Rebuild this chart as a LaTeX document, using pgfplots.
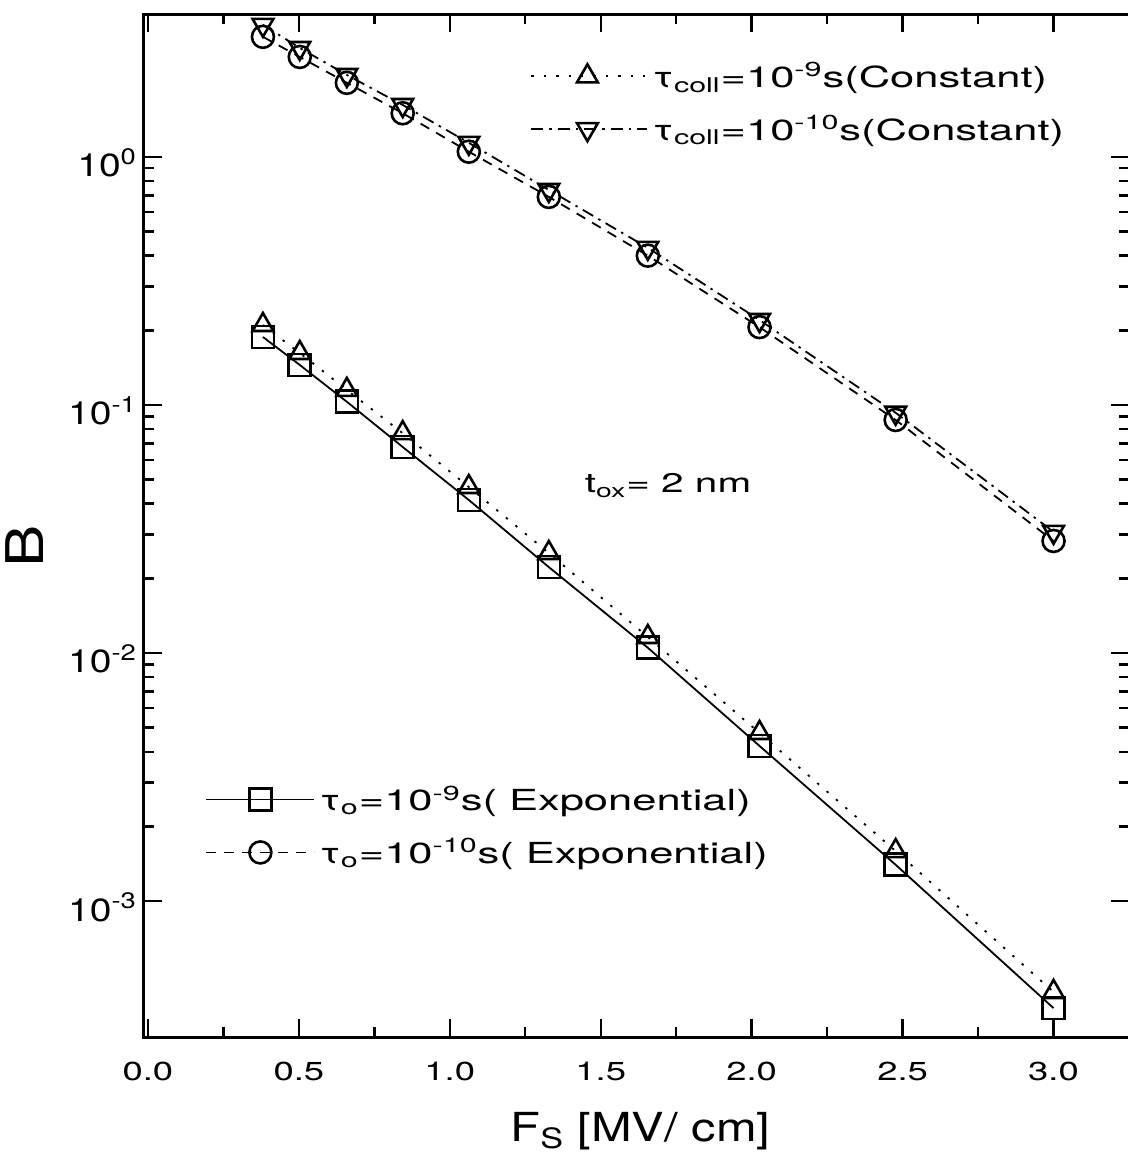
\documentclass[border=0pt]{standalone}
\usepackage{fontspec}
\setmainfont{TeX Gyre Heros}[FakeStretch=1.22]
\newfontfamily\legfont{TeX Gyre Heros}[FakeStretch=1.5]
\newfontfamily\tickfont{TeX Gyre Heros}[FakeStretch=1.4]
\usepackage{pgfplots}
\pgfplotsset{compat=1.18}
\tikzset{myfont/.style={font=\legfont\fontsize{14.5}{17}\selectfont}}
\begin{document}
\begin{tikzpicture}
% hidden axis: squares and circles, bottom-left legend
\begin{axis}[scale only axis, width=492.5pt, height=511.5pt,
  xmin=-0.013, xmax=3.25, ymode=log, ymin=2.83e-4, ymax=3.77,
  hide axis,
  legend style={draw=none, fill=none, at={(0.062,0.250)}, anchor=north west,
    inner sep=0pt, myfont, row sep=8.5pt},
  legend cell align=left,
  legend image code/.code={\draw[mark repeat=2,mark phase=2] plot coordinates {(0pt,0pt) (27pt,0pt) (54pt,0pt)};}]
\addplot[black, line width=0.9pt, solid, mark=square, mark size=5.5pt, mark options={solid, line width=1.3pt, fill=white}] coordinates {
 (0.381,0.188) (0.503,0.145) (0.659,0.103) (0.844,0.0677) (1.063,0.0414)
 (1.328,0.0222) (1.656,0.0105) (2.026,0.00422) (2.477,0.0014) (3.0,3.7e-4)};
\addlegendentry{τ\textsubscript{o}=10\textsuperscript{-9}s( Exponential)}
\addplot[black, line width=0.9pt, dash pattern=on 5pt off 4pt, mark=o, mark size=5.5pt, mark options={solid, line width=1.3pt, fill=white}] coordinates {
 (0.381,3.05) (0.503,2.53) (0.659,1.99) (0.844,1.50) (1.063,1.05)
 (1.328,0.69) (1.656,0.40) (2.026,0.206) (2.477,0.087) (3.0,0.0283)};
\addlegendentry{τ\textsubscript{o}=10\textsuperscript{-10}s( Exponential)}
\end{axis}
% main axis: triangles, top-right legend
\begin{axis}[scale only axis, width=492.5pt, height=511.5pt,
  xmin=-0.013, xmax=3.25, ymode=log, ymin=2.83e-4, ymax=3.77,
  axis line style={line width=1.5pt},
  xtick={0,0.5,1,1.5,2,2.5,3}, xticklabels={0.0,0.5,1.0,1.5,2.0,2.5,3.0},
  minor xtick={0.25,0.75,1.25,1.75,2.25,2.75},
  ytick={1e-3,1e-2,1e-1,1},
  yticklabels={10\textsuperscript{-3},10\textsuperscript{-2},10\textsuperscript{-1},10\textsuperscript{0}},
  tick style={line width=1.2pt, black},
  major tick length=9pt, minor tick length=5pt,
  xticklabel style={font=\tickfont\fontsize{13}{15}\selectfont, anchor=base, yshift=-21.5pt},
  yticklabel style={font=\fontsize{16}{19}\selectfont, yshift=-3pt},
  xlabel={F\textsubscript{S} [MV/ cm]}, ylabel={B},
  xlabel style={font=\fontsize{20}{24}\selectfont, at={(axis description cs:0.504,-0.1026)}, anchor=base},
  ylabel style={font=\fontsize{26}{30}\selectfont, at={(axis description cs:-0.121,0.48)}, anchor=center},
  legend style={draw=none, fill=none, at={(0.392,0.957)}, anchor=north west,
    inner sep=0pt, myfont, row sep=8.5pt},
  legend cell align=left,
  legend image code/.code={\draw[mark repeat=2,mark phase=2] plot coordinates {(0pt,0pt) (28pt,0pt) (58pt,0pt)};}]
\coordinate (sw) at (rel axis cs:0,0);
\coordinate (ne) at (rel axis cs:1,1);
\addplot[black, line width=0.9pt, dash pattern=on 1.2pt off 5pt, mark=triangle, mark size=6pt, mark options={solid, line width=1.3pt, fill=white}] coordinates {
 (0.381,0.210) (0.503,0.162) (0.659,0.115) (0.844,0.077) (1.063,0.0467)
 (1.328,0.0253) (1.656,0.0116) (2.026,0.00476) (2.477,0.00159) (3.0,4.3e-4)};
\addlegendentry{τ\textsubscript{coll}=10\textsuperscript{-9}s(Constant)}
\addplot[black, line width=0.9pt, dash pattern=on 6pt off 3pt on 1.2pt off 3pt, mark=triangle, mark size=6pt, mark options={solid, line width=1.3pt, fill=white, rotate=180}] coordinates {
 (0.381,3.41) (0.503,2.75) (0.659,2.14) (0.844,1.62) (1.063,1.14)
 (1.328,0.736) (1.656,0.43) (2.026,0.22) (2.477,0.093) (3.0,0.0308)};
\addlegendentry{τ\textsubscript{coll}=10\textsuperscript{-10}s(Constant)}
\node[anchor=base west, font=\legfont\fontsize{13.5}{16}\selectfont] at (axis cs:1.424,0.0442) {t\textsubscript{ox}= 2 nm};
\end{axis}
\pgfresetboundingbox
\path[use as bounding box] ([shift={(-72pt,-62pt)}]sw) rectangle ([shift={(-1pt,7pt)}]ne);
\end{tikzpicture}
\end{document}
